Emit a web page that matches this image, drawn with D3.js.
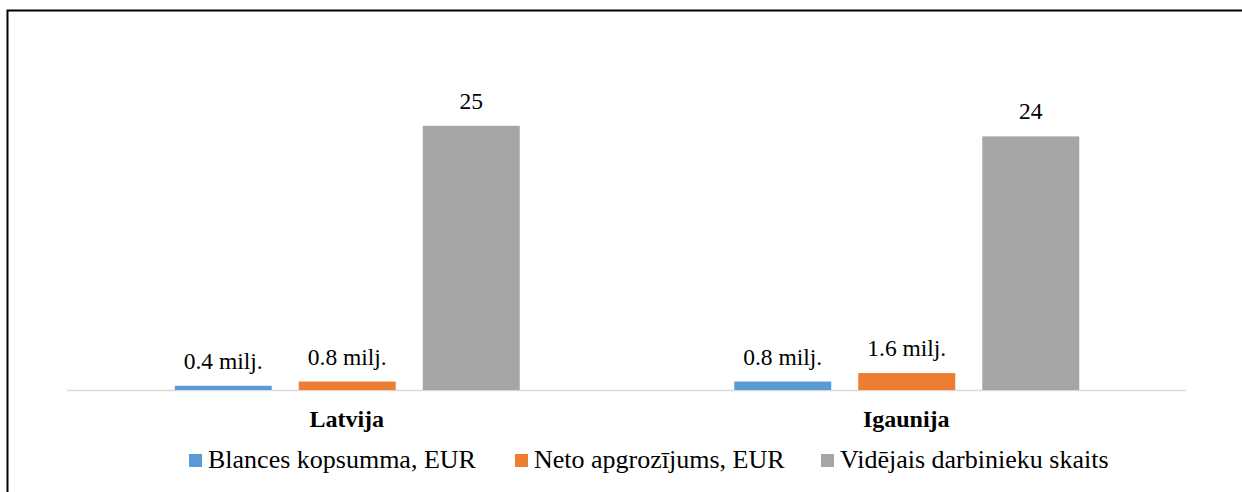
<!DOCTYPE html>
<html>
<head>
<meta charset="utf-8">
<script src="https://cdn.jsdelivr.net/npm/d3@7"></script>
</head>
<body style="margin:0">
<svg id="chart" width="1242" height="492"></svg>
<script>
// data
const countries = ["Latvija", "Igaunija"];
const seriesNames = ["Blances kopsumma, EUR", "Neto apgrozījums, EUR", "Vidējais darbinieku skaits"];
const blances = [0.4, 0.8];
const neto = [0.8, 1.6];
const darbinieki = [25, 24];
const valueLabels = [["0.4 milj.", "0.8 milj."], ["0.8 milj.", "1.6 milj."], ["25", "24"]];
const colors = ["#5b9bd5", "#ed7d31", "#a5a5a5"];

const allSeries = [blances, neto, darbinieki];

const svg = d3.select("#chart");

// outer frame (cut off at right / bottom like the source)
svg.append("rect")
    .attr("x", 7.5).attr("y", 10.5)
    .attr("width", 1300).attr("height", 600)
    .attr("fill", "none").attr("stroke", "#000").attr("stroke-width", 2);

const left = 67, right = 1186, base = 390;

let x0 = d3.scaleBand().domain(countries).range([left, right]);
let x1 = d3.scaleBand().domain(d3.range(3)).range([0, 345]).paddingInner(0.218);
let y = d3.scaleLinear().domain([0, 30]).range([base, base - 317]);

// baseline
svg.append("line")
    .attr("x1", left).attr("x2", right)
    .attr("y1", base + 0.5).attr("y2", base + 0.5)
    .attr("stroke", "#d9d9d9").attr("stroke-width", 1.5);

let groups = svg.selectAll("g.grp")
    .data(countries)
    .enter().append("g")
    .attr("class", "grp")
    .attr("transform", d => `translate(${x0(d) + x0.bandwidth() / 2 - 172},0)`);

groups.each(function(c, ci) {
    let g = d3.select(this);
    allSeries.forEach(function(s, si) {
        g.append("rect")
            .attr("x", x1(si))
            .attr("y", y(s[ci]))
            .attr("width", x1.bandwidth())
            .attr("height", base - y(s[ci]))
            .attr("fill", colors[si]);
        g.append("text")
            .attr("x", x1(si) + x1.bandwidth() / 2)
            .attr("y", y(s[ci]) - 17)
            .attr("text-anchor", "middle")
            .style("font-family", d => `"Liberation Serif"`)
            .style("font-size", "23.5px")
            .attr("fill", "#000")
            .text(valueLabels[si][ci]);
    });
});

// category labels
svg.selectAll("text.cat")
    .data(countries)
    .enter().append("text")
    .attr("class", "cat")
    .attr("x", d => x0(d) + x0.bandwidth() / 2)
    .attr("y", 427)
    .attr("text-anchor", "middle")
    .style("font-family", d => `"Liberation Serif"`)
    .style("font-size", "24px")
    .style("font-weight", "bold")
    .text(d => d);

// legend
let legendX = [189, 515, 821];
let leg = svg.selectAll("g.leg")
    .data(seriesNames)
    .enter().append("g")
    .attr("class", "leg")
    .attr("transform", (d, i) => `translate(${legendX[i]},0)`);
leg.append("rect")
    .attr("x", 0).attr("y", 454)
    .attr("width", 13).attr("height", 13)
    .attr("fill", (d, i) => colors[i]);
leg.append("text")
    .attr("x", 19).attr("y", 468)
    .style("font-family", d => `"Liberation Serif"`)
    .style("font-size", "26px")
    .text(d => d);
</script>
</body>
</html>
